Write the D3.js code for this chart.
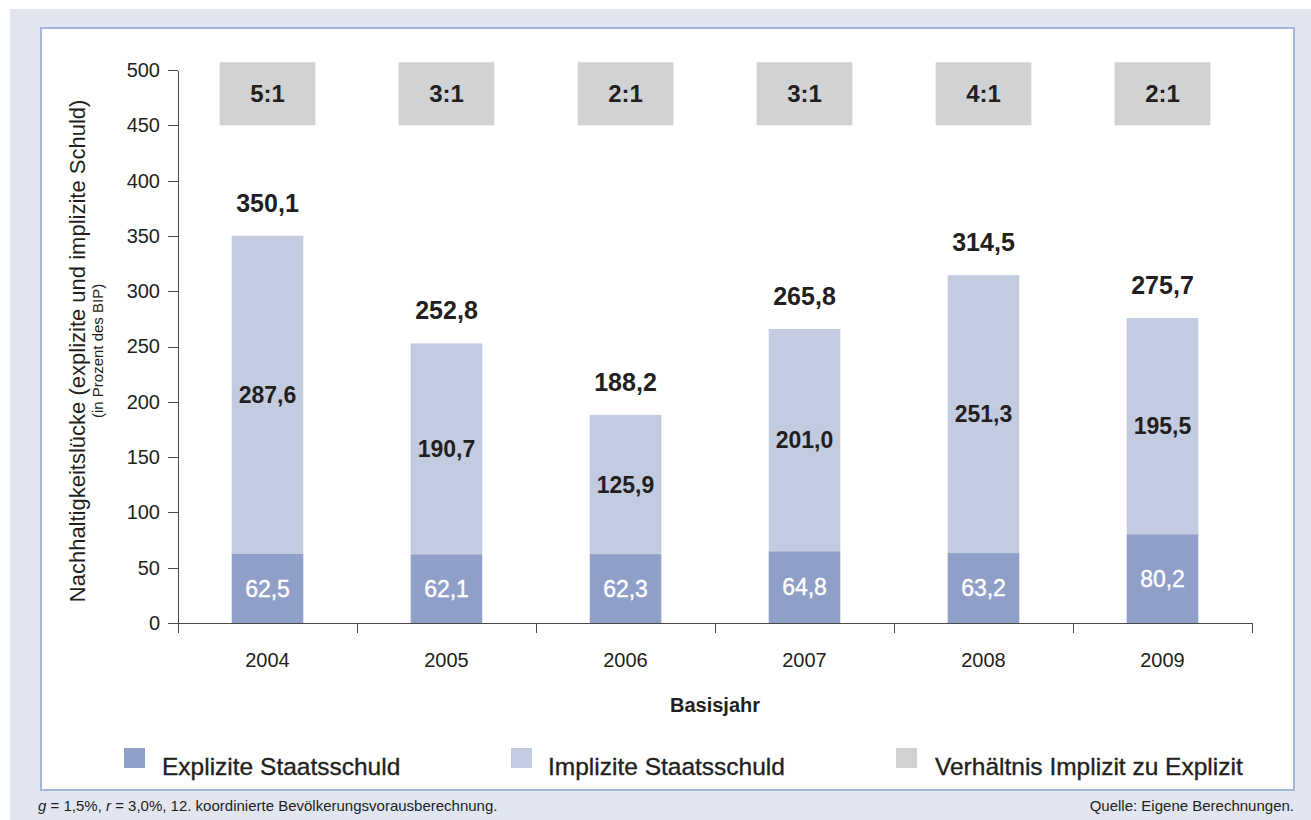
<html>
<head>
<meta charset="utf-8">
<script src="https://d3js.org/d3.v7.min.js"></script>
<style>
body {
  margin: 0;
  font-family: "Liberation Sans", Arial, Helvetica, sans-serif;
}
svg text {
  font-family: "Liberation Sans", Arial, Helvetica, sans-serif;
  fill: #231f20;
}
.axis path, .axis line {
  stroke: #4a4a4a;
  stroke-width: 1;
  shape-rendering: crispEdges;
}
.axis text {
  font-size: 20px;
}
.medium {
  stroke: #231f20;
  stroke-width: 0.35px;
}
</style>
</head>
<body>
<svg width="1311" height="820"></svg>
<script>

// data
var years = ["2004", "2005", "2006", "2007", "2008", "2009"];
var explizit = [62.5, 62.1, 62.3, 64.8, 63.2, 80.2];
var implizit = [287.6, 190.7, 125.9, 201.0, 251.3, 195.5];
var gesamt = [350.1, 252.8, 188.2, 265.8, 314.5, 275.7];
var verhaeltnis = ["5:1", "3:1", "2:1", "3:1", "4:1", "2:1"];
var yTicks = [0, 50, 100, 150, 200, 250, 300, 350, 400, 450, 500];

var colExp = "#909fc8",
    colImp = "#c2cbe0",
    colRatio = "#d1d2d4";

var fmt = function(v) { return d3.format(".1f")(v).replace(".", ","); };

var svg = d3.select("svg");

// background panel + white frame
svg.append("rect").attr("x", 10).attr("y", 9).attr("width", 1301).attr("height", 811)
    .attr("fill", "#e1e6f1");
svg.append("rect").attr("x", 41).attr("y", 28).attr("width", 1253).attr("height", 762)
    .attr("fill", "#fff").attr("stroke", "#a3b5da").attr("stroke-width", 2);

var x = d3.scaleBand()
    .domain(years)
    .range([178, 1252]);

var y = d3.scaleLinear()
    .domain([0, 500])
    .range([623, 70]);

var bw = x.bandwidth() * 0.4;
var boxW = x.bandwidth() * 0.535;

var rows = years.map(function(d, i) {
  return {year: d, exp: explizit[i], imp: implizit[i], tot: gesamt[i], ratio: verhaeltnis[i]};
});

// y axis
svg.append("g")
    .attr("class", "axis")
    .attr("transform", "translate(178,0)")
    .call(d3.axisLeft(y).tickValues(yTicks).tickSize(10).tickPadding(8).tickSizeOuter(0));

// x axis: line, boundary ticks, labels
var xg = svg.append("g").attr("class", "axis");
xg.append("line")
    .attr("x1", x.range()[0]).attr("x2", x.range()[1])
    .attr("y1", y(0)).attr("y2", y(0));
xg.selectAll(".bt")
    .data(years.concat(["end"]))
    .enter().append("line")
    .attr("class", "bt")
    .attr("x1", d => d == "end" ? x.range()[1] : x(d))
    .attr("x2", d => d == "end" ? x.range()[1] : x(d))
    .attr("y1", y(0)).attr("y2", y(0) + 10);
xg.selectAll(".xl")
    .data(years)
    .enter().append("text")
    .attr("class", "xl")
    .attr("x", d => x(d) + x.bandwidth() / 2)
    .attr("y", 667)
    .attr("text-anchor", "middle")
    .style("font-size", "20px")
    .text(d => d);

// bars
var g = svg.selectAll(".layer")
    .data(rows)
    .enter().append("g")
    .attr("class", "layer")
    .attr("transform", d => "translate(" + (x(d.year) + x.bandwidth() / 2) + ",0)");

g.append("rect")
    .attr("x", -bw / 2).attr("width", bw)
    .attr("y", d => y(d.exp + d.imp))
    .attr("height", d => y(d.exp) - y(d.exp + d.imp))
    .attr("fill", colImp);

g.append("rect")
    .attr("x", -bw / 2).attr("width", bw)
    .attr("y", d => y(d.exp))
    .attr("height", d => y(0) - y(d.exp))
    .attr("fill", colExp);

// ratio boxes
g.append("rect")
    .attr("x", -boxW / 2).attr("width", boxW)
    .attr("y", y(507)).attr("height", y(450) - y(507))
    .attr("fill", colRatio);

g.append("text")
    .attr("y", (y(507) + y(450)) / 2)
    .attr("dy", "0.36em")
    .attr("text-anchor", "middle")
    .style("font-size", "24px").style("font-weight", "bold")
    .text(d => d.ratio);

// value labels
g.append("text")
    .attr("y", d => y(d.tot) - 24)
    .attr("text-anchor", "middle")
    .style("font-size", "25px").style("font-weight", "bold")
    .text(d => fmt(d.tot));

g.append("text")
    .attr("y", d => y(d.exp + d.imp / 2))
    .attr("dy", "0.36em")
    .attr("text-anchor", "middle")
    .style("font-size", "23px").style("font-weight", "bold")
    .text(d => fmt(d.imp));

g.append("text")
    .attr("y", d => y(d.exp / 2))
    .attr("dy", "0.36em")
    .attr("text-anchor", "middle")
    .style("font-size", "23px")
    .style("fill", "#fff")
    .style("stroke", "#fff").style("stroke-width", "0.35px")
    .text(d => fmt(d.exp));

// axis titles
svg.append("text")
    .attr("transform", "translate(85," + y(246) + ") rotate(-90)")
    .attr("text-anchor", "middle")
    .style("font-size", "22px")
    .text("Nachhaltigkeitslücke (explizite und implizite Schuld)");

svg.append("text")
    .attr("transform", "translate(103," + y(246) + ") rotate(-90)")
    .attr("text-anchor", "middle")
    .style("font-size", "15px")
    .text("(in Prozent des BIP)");

svg.append("text")
    .attr("x", (x.range()[0] + x.range()[1]) / 2)
    .attr("y", 712)
    .attr("text-anchor", "middle")
    .style("font-size", "20px").style("font-weight", "bold")
    .text("Basisjahr");

// legend
var legend = [
  {label: "Explizite Staatsschuld", color: colExp, sx: 124, tx: 162},
  {label: "Implizite Staatsschuld", color: colImp, sx: 511, tx: 548},
  {label: "Verhältnis Implizit zu Explizit", color: colRatio, sx: 896, tx: 935}
];
legend.forEach(function(l) {
  svg.append("rect").attr("x", l.sx).attr("y", 748).attr("width", 21).attr("height", 20)
      .attr("fill", l.color);
  svg.append("text").attr("class", "medium").attr("x", l.tx).attr("y", 775)
      .style("font-size", "24.5px")
      .text(l.label);
});

// footer
var foot = svg.append("text").attr("x", 38).attr("y", 811).style("font-size", "15px");
foot.append("tspan").style("font-style", "italic").text("g");
foot.append("tspan").text(" = 1,5%, ");
foot.append("tspan").style("font-style", "italic").text("r");
foot.append("tspan").text(" = 3,0%, 12. koordinierte Bevölkerungsvorausberechnung.");

svg.append("text").attr("x", 1294).attr("y", 811)
    .attr("text-anchor", "end")
    .style("font-size", "15px")
    .text("Quelle: Eigene Berechnungen.");

</script>
</body>
</html>
